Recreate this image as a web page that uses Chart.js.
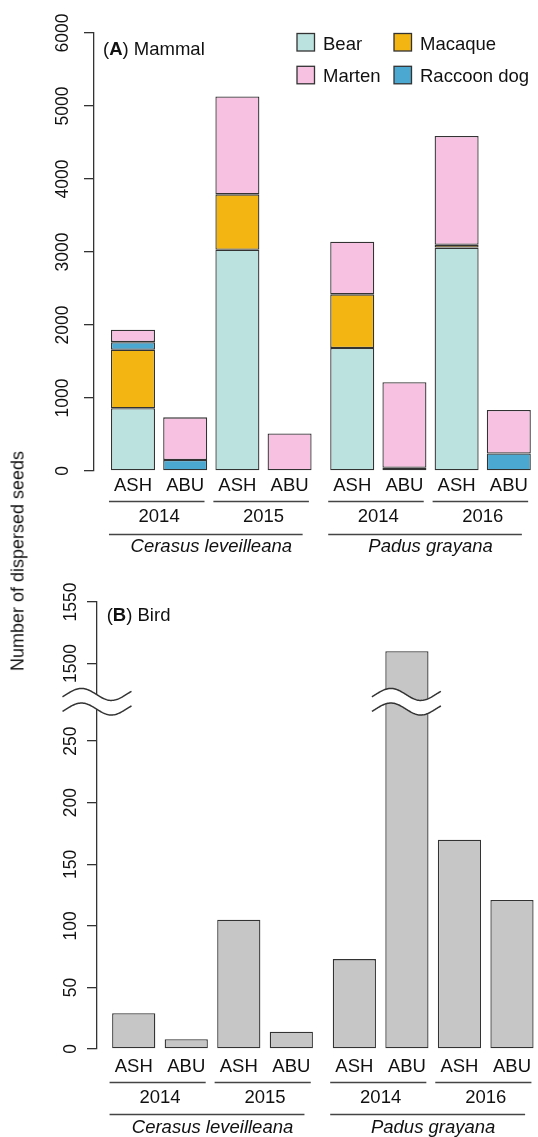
<!DOCTYPE html>
<html><head><meta charset="utf-8">
<script src="https://cdn.jsdelivr.net/npm/chart.js@4.4.0/dist/chart.umd.min.js"></script>
<style>
html,body{margin:0;padding:0;background:#fff;}
#wrap{position:relative;width:538px;height:1137px;overflow:hidden;background:#fff;}
canvas{position:absolute;left:0;}
#c1{top:0;} #c2{top:565px;}
#ytitle{position:absolute;left:18px;top:561px;transform:translate(-50%,-50%) rotate(-90deg);font:18px "Liberation Sans",Arial,sans-serif;color:#111;white-space:nowrap;}
</style></head><body>
<div id="wrap">
<canvas id="c1" width="538" height="565"></canvas>
<canvas id="c2" width="538" height="572"></canvas>
<div id="ytitle">Number of dispersed seeds</div>
</div>
<script>
// ---- data ----
const sites = ['ASH','ABU','ASH','ABU','ASH','ABU','ASH','ABU'];
const years = ['2014','2015','2014','2016'];
const species = ['Cerasus leveilleana','Padus grayana'];
const bear       = [860, 0, 3030, 0, 1685, 0, 3060, 0];
const macaque    = [800, 0, 760, 0, 735, 0, 40, 0];
const raccoonDog = [105, 150, 0, 0, 0, 45, 0, 240];
const marten     = [170, 585, 1340, 515, 720, 1170, 1490, 595];
const birds      = [29, 8, 105, 14, 73, 1510, 170, 121];
const mammalTicks = [0, 1000, 2000, 3000, 4000, 5000, 6000];
const birdTicks   = [0, 50, 100, 150, 200, 250, 1500, 1550];
const legendOrder = ['Bear', 'Macaque', 'Marten', 'Raccoon dog'];

// ---- styling / layout ----
const FONT = '"Liberation Sans", Arial, sans-serif';
const TXT = '#111';
const LINE = '#333';
Chart.defaults.font.family = FONT;
Chart.defaults.color = TXT;
Chart.defaults.animation = false;
Chart.defaults.plugins.legend.display = false;
Chart.defaults.plugins.tooltip.enabled = false;

const GROUP_GAP = 0.2;
const xPos = sites.map((_, i) => i + (i >= sites.length / 2 ? GROUP_GAP : 0));
const perYear = sites.length / years.length;
const perSpecies = sites.length / species.length;
const yearGroups = years.map((_, k) => [k * perYear, k * perYear + perYear - 1]);
const speciesGroups = species.map((_, k) => [k * perSpecies, k * perSpecies + perSpecies - 1]);
const mid = g => (xPos[g[0]] + xPos[g[1]]) / 2;

// broken bird axis
const BIRD_BREAK = { at: 283, jump: 1187 };
const toDisplay = v => v > BIRD_BREAK.at ? v - BIRD_BREAK.jump : v;

const groupLines = {
  id: 'groupLines',
  afterDraw(chart) {
    const ctx = chart.ctx, xs = chart.scales.x;
    ctx.save(); ctx.strokeStyle = '#444'; ctx.lineWidth = 1.3;
    const seg = (a, b, y) => { ctx.beginPath(); ctx.moveTo(xs.getPixelForValue(a), y); ctx.lineTo(xs.getPixelForValue(b), y); ctx.stroke(); };
    const yy = Math.round(chart.scales.xYear.top) + 0.5;
    const ys = Math.round(chart.scales.xSp.top) + 0.5;
    yearGroups.forEach(g => seg(xPos[g[0]] - 0.46, xPos[g[1]] + 0.37, yy));
    speciesGroups.forEach(g => seg(xPos[g[0]] - 0.46, xPos[g[1]] + 0.25, ys));
    ctx.restore();
  }
};

const panelTitle = {
  id: 'panelTitle',
  afterDraw(chart, args, o) {
    const ctx = chart.ctx;
    ctx.save(); ctx.fillStyle = TXT; ctx.textBaseline = 'alphabetic';
    let x = o.x;
    const parts = [['(', 'normal'], [o.letter, 'bold'], [') ' + o.text, 'normal']];
    for (const [t, w] of parts) {
      ctx.font = w + ' 18.5px ' + FONT;
      ctx.fillText(t, x, o.y);
      x += ctx.measureText(t).width;
    }
    ctx.restore();
  }
};

const boxLegend = {
  id: 'boxLegend',
  afterDraw(chart, args, o) {
    const ctx = chart.ctx;
    ctx.save();
    ctx.font = '18.5px ' + FONT; ctx.textBaseline = 'alphabetic';
    legendOrder.forEach((name, i) => {
      const ds = chart.data.datasets.find(d => d.label === name);
      const col = i % 2, row = Math.floor(i / 2);
      const bx = o.cols[col], by = o.rows[row];
      ctx.fillStyle = ds.backgroundColor;
      ctx.fillRect(bx, by, o.box, o.box);
      ctx.strokeStyle = LINE; ctx.lineWidth = 1.3;
      ctx.strokeRect(bx, by, o.box, o.box);
      ctx.fillStyle = TXT;
      ctx.fillText(name, bx + 26, by + o.box - 1.5);
    });
    ctx.restore();
  }
};

const axisBreak = {
  id: 'axisBreak',
  afterDatasetsDraw(chart) {
    const ctx = chart.ctx, ys = chart.scales.y, xs = chart.scales.x;
    const cy = ys.getPixelForValue(BIRD_BREAK.at);
    const centers = [chart.chartArea.left];
    birds.forEach((v, i) => { if (v > BIRD_BREAK.at) centers.push(xs.getPixelForValue(xPos[i]) - 0.5); });
    const A = 6, P = 60, xp = -15.6, half = 7.3;
    const wave = (cx, off, dir) => {
      const pts = [];
      for (let dx = -34.5; dx <= 34.6; dx += 1) pts.push([cx + dx, cy + off - A * Math.cos(2 * Math.PI * (dx - xp) / P)]);
      return dir ? pts : pts.reverse();
    };
    ctx.save();
    for (const cx of centers) {
      const up = wave(cx, -half + 1.2, true), lo = wave(cx, half + 1.2, false);
      ctx.beginPath();
      up.concat(lo).forEach((p, i) => i ? ctx.lineTo(p[0], p[1]) : ctx.moveTo(p[0], p[1]));
      ctx.closePath(); ctx.fillStyle = '#fff'; ctx.fill();
      ctx.strokeStyle = LINE; ctx.lineWidth = 1.5;
      for (const w of [wave(cx, -half + 1.2, true), wave(cx, half + 1.2, true)]) {
        ctx.beginPath(); w.forEach((p, i) => i ? ctx.lineTo(p[0], p[1]) : ctx.moveTo(p[0], p[1])); ctx.stroke();
      }
    }
    ctx.restore();
  }
};

function xAxes(min, max, heights, pads) {
  const common = { type: 'linear', position: 'bottom', min, max, offset: false,
    grid: { display: false, drawTicks: false }, border: { display: false } };
  return {
    x: Object.assign({}, common, { stacked: true, weight: 0,
      afterBuildTicks: s => { s.ticks = xPos.map(v => ({ value: v })); },
      ticks: { callback: (v, i) => sites[i], font: { size: 18.5 }, padding: pads[0], autoSkip: false, maxRotation: 0, color: TXT },
      afterFit: s => { s.height = heights[0]; } }),
    xYear: Object.assign({}, common, { weight: 1,
      afterBuildTicks: s => { s.ticks = yearGroups.map(g => ({ value: mid(g) })); },
      ticks: { callback: (v, i) => years[i], font: { size: 18.5 }, padding: pads[1], autoSkip: false, maxRotation: 0, color: TXT },
      afterFit: s => { s.height = heights[1]; } }),
    xSp: Object.assign({}, common, { weight: 2,
      afterBuildTicks: s => { s.ticks = speciesGroups.map(g => ({ value: mid(g) })); },
      ticks: { callback: (v, i) => species[i], font: { size: 18.5, style: 'italic' }, padding: pads[2], autoSkip: false, maxRotation: 0, color: TXT },
      afterFit: s => { s.height = heights[2]; } })
  };
}

function yAxis(ticksArr, mapFn, max, width, pad, stacked) {
  return {
    type: 'linear', position: 'left', min: 0, max, stacked,
    afterBuildTicks: s => { s.ticks = ticksArr.map(v => ({ value: mapFn(v) })); },
    ticks: { callback: (v, i) => String(ticksArr[i]), minRotation: 90, maxRotation: 90, crossAlign: 'center',
      padding: pad, font: { size: 17.5 }, color: TXT, autoSkip: false },
    grid: { display: true, drawOnChartArea: false, drawTicks: true, tickLength: 10, color: LINE, lineWidth: 1.3 },
    border: { display: true, color: LINE, width: 1.3 },
    afterFit: s => { s.width = width; }
  };
}

// zero-height segments get no outline so stack boundaries stay single lines
const barStyle = { borderColor: LINE, borderWidth: c => (c.raw && c.raw.y === 0 ? 0 : 1.3), borderSkipped: false, categoryPercentage: 1 };
const pts = arr => arr.map((v, i) => ({ x: xPos[i], y: v }));

// ---- Panel A: mammals ----
new Chart(document.getElementById('c1'), {
  type: 'bar',
  data: { datasets: [
    Object.assign({ label: 'Bear', data: pts(bear), backgroundColor: '#BCE2E0', barPercentage: 0.843 }, barStyle),
    Object.assign({ label: 'Macaque', data: pts(macaque), backgroundColor: '#F2B512', barPercentage: 0.843 }, barStyle),
    Object.assign({ label: 'Raccoon dog', data: pts(raccoonDog), backgroundColor: '#4BA9D1', barPercentage: 0.843 }, barStyle),
    Object.assign({ label: 'Marten', data: pts(marten), backgroundColor: '#F7C1E2', barPercentage: 0.843 }, barStyle)
  ]},
  options: {
    responsive: false, devicePixelRatio: 1,
    layout: { padding: { top: 33, left: 0, right: 0, bottom: 0 } },
    scales: Object.assign(xAxes(-0.747, 7.759, [30, 33, 31], [4, 5, 2]),
      { y: yAxis(mammalTicks, v => v, 6000, 94, 1.2, true) }),
    plugins: {
      panelTitle: { x: 103, y: 54.5, letter: 'A', text: 'Mammal' },
      boxLegend: { cols: [297, 394], rows: [33.5, 66.3], box: 17.5 }
    }
  },
  plugins: [groupLines, panelTitle, boxLegend]
});

// ---- Panel B: birds ----
new Chart(document.getElementById('c2'), {
  type: 'bar',
  data: { datasets: [
    Object.assign({ label: 'Bird', data: birds.map((v, i) => ({ x: xPos[i], y: toDisplay(v) })), backgroundColor: '#C6C6C6', barPercentage: 0.822 }, barStyle)
  ]},
  options: {
    responsive: false, devicePixelRatio: 1,
    layout: { padding: { top: 37, left: 0, right: 0, bottom: 0 } },
    scales: Object.assign(xAxes(-0.699, 7.637, [33, 32, 23], [7, 5, 3]),
      { y: yAxis(birdTicks, toDisplay, toDisplay(1550), 97, -3.2, false) }),
    plugins: {
      panelTitle: { x: 106.7, y: 55.5, letter: 'B', text: 'Bird' }
    }
  },
  plugins: [groupLines, panelTitle, axisBreak]
});
</script>
</body></html>
